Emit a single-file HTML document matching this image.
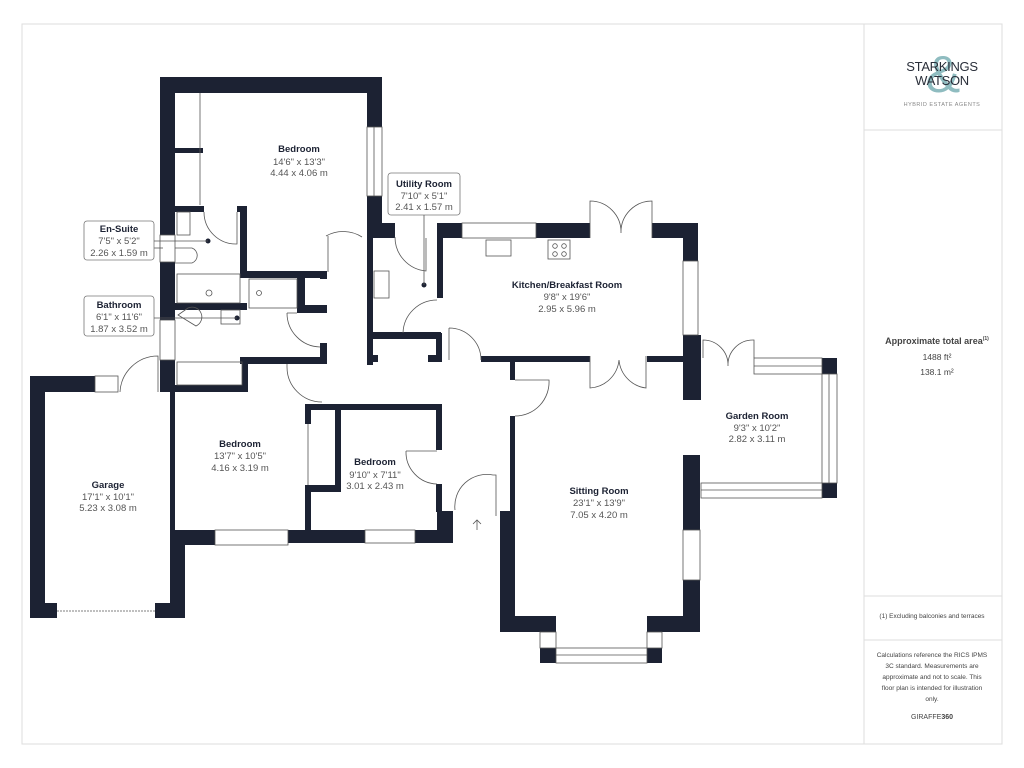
<!DOCTYPE html>
<html><head><meta charset="utf-8"><style>
html,body{margin:0;padding:0;background:#fff;}
svg{display:block}
.t{font-family:"Liberation Sans",sans-serif;font-size:9.5px;font-weight:bold;fill:#1c2233;text-anchor:middle}
.d{font-family:"Liberation Sans",sans-serif;font-size:9.5px;fill:#555;text-anchor:middle}
.w{fill:#1c2233}
.win{fill:#fff;stroke:#555;stroke-width:0.8}
.ln{stroke:#555;stroke-width:0.8;fill:none}
.box{fill:#fff;stroke:#777;stroke-width:0.8}
.p{font-family:"Liberation Sans",sans-serif;fill:#444;text-anchor:middle}
</style></head><body>
<svg width="1024" height="768" viewBox="0 0 1024 768" xmlns="http://www.w3.org/2000/svg">
<rect x="22" y="24" width="980" height="720" fill="none" stroke="#ddd" stroke-width="1"/>
<line x1="864" y1="24" x2="864" y2="744" stroke="#ddd"/>
<line x1="864" y1="130" x2="1002" y2="130" stroke="#ddd"/>
<line x1="864" y1="596" x2="1002" y2="596" stroke="#ddd"/>
<line x1="864" y1="640" x2="1002" y2="640" stroke="#ddd"/>
<!-- logo -->
<text x="943" y="92" font-family="Liberation Sans,sans-serif" font-size="52" fill="#8fbcc0" text-anchor="middle">&amp;</text>
<text x="942" y="71" font-family="Liberation Sans,sans-serif" font-size="13" fill="#2a2f3a" text-anchor="middle" letter-spacing="-0.3">STARKINGS</text>
<text x="942" y="85" font-family="Liberation Sans,sans-serif" font-size="13" fill="#2a2f3a" text-anchor="middle" letter-spacing="-0.3">WATSON</text>
<text x="942" y="106" font-family="Liberation Sans,sans-serif" font-size="5.5" fill="#888" text-anchor="middle" letter-spacing="0.5">HYBRID ESTATE AGENTS</text>
<!-- panel text -->
<text x="937" y="344" class="p" font-size="9" font-weight="bold" fill="#1c2233">Approximate total area<tspan font-size="5" dy="-4">(1)</tspan></text>
<text x="937" y="360" class="p" font-size="8.5">1488 ft²</text>
<text x="937" y="375" class="p" font-size="8.5">138.1 m²</text>
<text x="932" y="618" class="p" font-size="6.5">(1) Excluding balconies and terraces</text>
<text x="932" y="657" class="p" font-size="6.5">Calculations reference the RICS IPMS</text>
<text x="932" y="668" class="p" font-size="6.5">3C standard. Measurements are</text>
<text x="932" y="679" class="p" font-size="6.5">approximate and not to scale. This</text>
<text x="932" y="690" class="p" font-size="6.5">floor plan is intended for illustration</text>
<text x="932" y="701" class="p" font-size="6.5">only.</text>
<text x="932" y="719" class="p" font-size="7" fill="#222">GIRAFFE<tspan font-weight="bold">360</tspan></text>

<!-- WALLS -->
<g class="w">
<rect x="160" y="77" width="222" height="16"/>
<rect x="160" y="77" width="15" height="158"/>
<rect x="367" y="77" width="15" height="50"/>
<rect x="367" y="196" width="15" height="41"/>
<rect x="367" y="223" width="28" height="15"/>
<rect x="175" y="148" width="28" height="5"/>
<rect x="175" y="206" width="29" height="6"/>
<rect x="237" y="206" width="10" height="6"/>
<rect x="240" y="206" width="7" height="72"/>
<rect x="240" y="271" width="87" height="7"/>
<rect x="297" y="271" width="8" height="42"/>
<rect x="297" y="305" width="30" height="8"/>
<rect x="320" y="271" width="7" height="8"/>
<rect x="160" y="262" width="15" height="58"/>
<rect x="160" y="360" width="15" height="32"/>
<rect x="175" y="303" width="72" height="7"/>
<rect x="240" y="357" width="87" height="7"/>
<rect x="242" y="357" width="6" height="35"/>
<rect x="175" y="385" width="73" height="7"/>
<rect x="320" y="343" width="7" height="21"/>
<rect x="30" y="376" width="15" height="242"/>
<rect x="30" y="376" width="65" height="16"/>
<rect x="30" y="603" width="27" height="15"/>
<rect x="155" y="603" width="30" height="15"/>
<rect x="170" y="392" width="5" height="211"/>
<rect x="175" y="530" width="10" height="88"/>
<rect x="175" y="530" width="40" height="15"/>
<rect x="288" y="530" width="77" height="13"/>
<rect x="415" y="530" width="38" height="13"/>
<rect x="305" y="404" width="137" height="6"/>
<rect x="436" y="404" width="6" height="46"/>
<rect x="436" y="484" width="6" height="28"/>
<rect x="437" y="511" width="16" height="32"/>
<rect x="305" y="404" width="6" height="20"/>
<rect x="305" y="485" width="6" height="47"/>
<rect x="335" y="404" width="6" height="88"/>
<rect x="305" y="485" width="36" height="7"/>
<rect x="367" y="237" width="6" height="128"/>
<rect x="367" y="332" width="74" height="7"/>
<rect x="437" y="223" width="6" height="75"/>
<rect x="437" y="223" width="25" height="15"/>
<rect x="367" y="355" width="11" height="7"/>
<rect x="428" y="355" width="14" height="7"/>
<rect x="436" y="333" width="6" height="29"/>
<rect x="536" y="223" width="54" height="15"/>
<rect x="652" y="223" width="46" height="15"/>
<rect x="683" y="223" width="15" height="38"/>
<rect x="683" y="335" width="18" height="65"/>
<rect x="481" y="356" width="109" height="6"/>
<rect x="647" y="356" width="36" height="6"/>
<rect x="510" y="356" width="5" height="24"/>
<rect x="510" y="416" width="5" height="100"/>
<rect x="500" y="511" width="15" height="121"/>
<rect x="500" y="616" width="56" height="16"/>
<rect x="683" y="455" width="17" height="75"/>
<rect x="683" y="580" width="17" height="52"/>
<rect x="647" y="616" width="53" height="16"/>
<rect x="540" y="648" width="16" height="15"/>
<rect x="647" y="648" width="15" height="15"/>
<rect x="822" y="358" width="15" height="16"/>
<rect x="822" y="483" width="15" height="15"/>
</g>

<g class="win">
<rect x="367" y="127" width="15" height="69"/>
<rect x="160" y="235" width="15" height="27"/>
<rect x="160" y="320" width="15" height="40"/>
<rect x="95" y="376" width="23" height="16"/>
<rect x="215" y="530" width="73" height="15"/>
<rect x="365" y="530" width="50" height="13"/>
<rect x="462" y="223" width="74" height="15"/>
<rect x="683" y="261" width="15" height="74"/>
<rect x="683" y="530" width="17" height="50"/>
<rect x="540" y="632" width="16" height="16"/>
<rect x="647" y="632" width="15" height="16"/>
<rect x="556" y="648" width="91" height="15"/>
<rect x="754" y="358" width="68" height="16"/>
<rect x="822" y="374" width="15" height="109"/>
<rect x="701" y="483" width="121" height="15"/>
</g>
<g class="ln">
<line x1="163" y1="248" x2="150" y2="248"/>
<line x1="374" y1="127" x2="374" y2="196"/>
<line x1="556" y1="655" x2="647" y2="655"/>
<line x1="829" y1="374" x2="829" y2="483"/>
<line x1="701" y1="490" x2="822" y2="490"/>
<line x1="754" y1="366" x2="822" y2="366"/>
<line x1="200" y1="93" x2="200" y2="205"/>
<line x1="308" y1="424" x2="308" y2="485"/>
<line x1="57" y1="611" x2="155" y2="611" stroke-dasharray="2,1"/>
<path d="M204 212 A32 32 0 0 0 237 244 L237 212"/>
<path d="M326 236 A35 35 0 0 1 362 237 M328 272 L328 236"/>
<path d="M395 237 A34 34 0 0 0 426 271 L426 238"/>
<path d="M403 333 A34 34 0 0 1 437 300"/>
<path d="M287 313 A34 34 0 0 0 320 347 M287 313 L297 313"/>
<path d="M287 367 A35 35 0 0 0 322 402 M287 364 L287 367"/>
<path d="M449 328 A32 32 0 0 1 481 360 M449 328 L449 360"/>
<path d="M515 380 L549 380 A34 34 0 0 1 515 416"/>
<path d="M406 451 A32 32 0 0 0 437 484 M406 451 L437 451"/>
<path d="M455 510 A32 32 0 0 1 493 475 L496 475 L496 516"/>
<path d="M120 392 A38 38 0 0 1 158 356 L158 392"/>
<path d="M590 238 L590 201 A31 31 0 0 1 621 233 A31 31 0 0 1 652 201 L652 238"/>
<path d="M590 356 L590 388 A31 31 0 0 0 619 360 A31 31 0 0 0 646 388 L646 356"/>
<path d="M703 358 L703 340 A25 25 0 0 1 728 366 A25 25 0 0 1 754 340 L754 358"/>
<rect x="486" y="240" width="25" height="16"/>
<rect x="548" y="240" width="22" height="19"/>
<circle cx="555" cy="246" r="2.3"/><circle cx="564" cy="246" r="2.3"/>
<circle cx="555" cy="254" r="2.3"/><circle cx="564" cy="254" r="2.3"/>
<rect x="374" y="271" width="15" height="27"/>
<rect x="177" y="212" width="13" height="23"/>
<path d="M175 248 L192 248 A8 8 0 0 1 192 263 L175 263"/>
<rect x="177" y="274" width="63" height="29"/>
<circle cx="209" cy="293" r="3"/>
<rect x="249" y="279" width="48" height="29"/>
<circle cx="259" cy="293" r="2.5"/>
<rect x="221" y="310" width="19" height="14"/>
<path d="M178 315 L188 308 A8 8 0 1 1 196 326 Z"/>
<rect x="177" y="362" width="65" height="23"/>
<line x1="477" y1="530" x2="477" y2="520"/><path d="M473 524 L477 520 L481 524"/>
</g>
<circle cx="208" cy="241" r="2.5" fill="#1c2233"/>
<circle cx="424" cy="285" r="2.5" fill="#1c2233"/>
<circle cx="237" cy="318" r="2.5" fill="#1c2233"/>

<rect x="388" y="173" width="72" height="42" rx="3" class="box"/>
<line x1="424" y1="215" x2="424" y2="285" class="ln"/>
<rect x="84" y="221" width="70" height="39" rx="3" class="box"/>
<line x1="154" y1="241" x2="208" y2="241" class="ln"/>
<rect x="84" y="296" width="70" height="40" rx="3" class="box"/>
<line x1="154" y1="318" x2="237" y2="318" class="ln"/>

<text class="t" x="299" y="152">Bedroom</text>
<text class="d" x="299" y="165">14'6" x 13'3"</text>
<text class="d" x="299" y="176">4.44 x 4.06 m</text>
<text class="t" x="424" y="187">Utility Room</text>
<text class="d" x="424" y="199">7'10" x 5'1"</text>
<text class="d" x="424" y="210">2.41 x 1.57 m</text>
<text class="t" x="119" y="232">En-Suite</text>
<text class="d" x="119" y="244">7'5" x 5'2"</text>
<text class="d" x="119" y="256">2.26 x 1.59 m</text>
<text class="t" x="119" y="308">Bathroom</text>
<text class="d" x="119" y="320">6'1" x 11'6"</text>
<text class="d" x="119" y="332">1.87 x 3.52 m</text>
<text class="t" x="567" y="288">Kitchen/Breakfast Room</text>
<text class="d" x="567" y="300">9'8" x 19'6"</text>
<text class="d" x="567" y="312">2.95 x 5.96 m</text>
<text class="t" x="757" y="419">Garden Room</text>
<text class="d" x="757" y="431">9'3" x 10'2"</text>
<text class="d" x="757" y="442">2.82 x 3.11 m</text>
<text class="t" x="240" y="447">Bedroom</text>
<text class="d" x="240" y="459">13'7" x 10'5"</text>
<text class="d" x="240" y="471">4.16 x 3.19 m</text>
<text class="t" x="375" y="465">Bedroom</text>
<text class="d" x="375" y="478">9'10" x 7'11"</text>
<text class="d" x="375" y="489">3.01 x 2.43 m</text>
<text class="t" x="108" y="488">Garage</text>
<text class="d" x="108" y="500">17'1" x 10'1"</text>
<text class="d" x="108" y="511">5.23 x 3.08 m</text>
<text class="t" x="599" y="494">Sitting Room</text>
<text class="d" x="599" y="506">23'1" x 13'9"</text>
<text class="d" x="599" y="518">7.05 x 4.20 m</text>
</svg>
</body></html>
